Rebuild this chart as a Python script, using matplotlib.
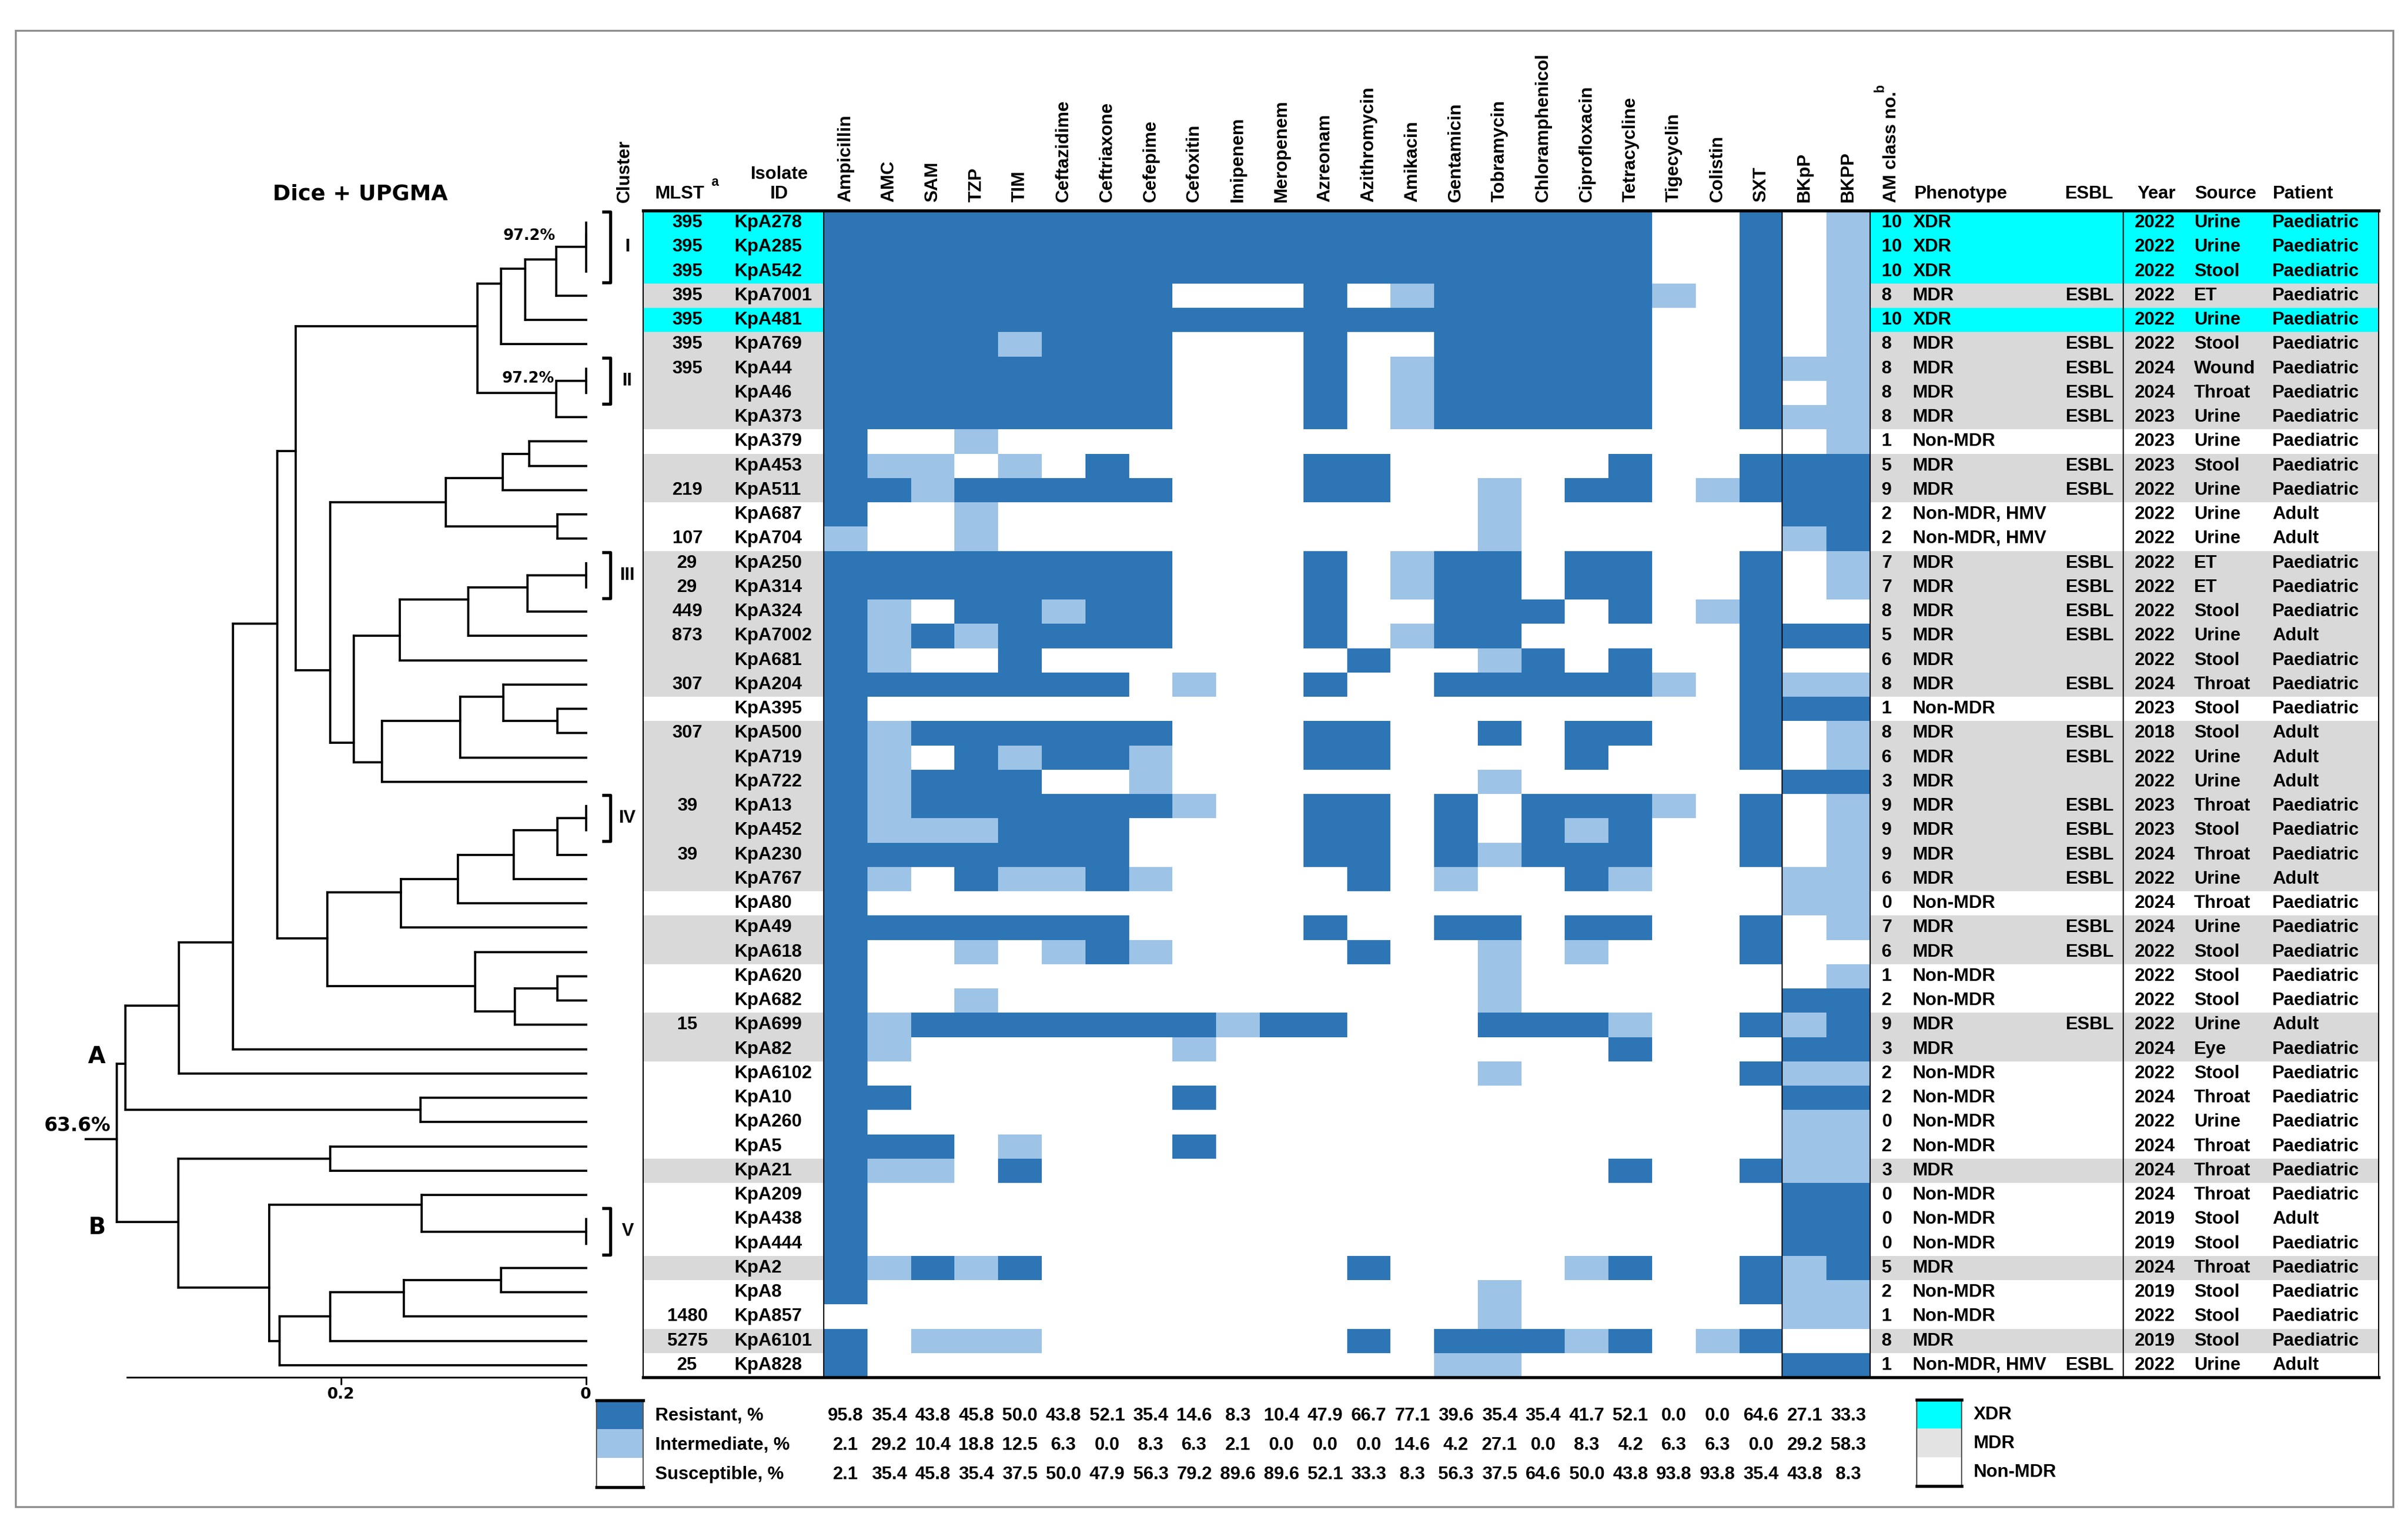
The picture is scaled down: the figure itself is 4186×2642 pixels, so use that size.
import numpy as np
import matplotlib
matplotlib.use("Agg")
import matplotlib.pyplot as plt
from matplotlib.colors import ListedColormap
from matplotlib import transforms
from matplotlib.patches import Rectangle

# ---------------- data ----------------
isolates = ["KpA278", "KpA285", "KpA542", "KpA7001", "KpA481", "KpA769", "KpA44", "KpA46",
            "KpA373", "KpA379", "KpA453", "KpA511", "KpA687", "KpA704", "KpA250", "KpA314",
            "KpA324", "KpA7002", "KpA681", "KpA204", "KpA395", "KpA500", "KpA719", "KpA722",
            "KpA13", "KpA452", "KpA230", "KpA767", "KpA80", "KpA49", "KpA618", "KpA620",
            "KpA682", "KpA699", "KpA82", "KpA6102", "KpA10", "KpA260", "KpA5", "KpA21",
            "KpA209", "KpA438", "KpA444", "KpA2", "KpA8", "KpA857", "KpA6101", "KpA828"]

mlst = ["395", "395", "395", "395", "395", "395", "395", "", "", "", "", "219", "", "107",
        "29", "29", "449", "873", "", "307", "", "307", "", "", "39", "", "39", "", "", "",
        "", "", "", "15", "", "", "", "", "", "", "", "", "", "", "", "1480", "5275", "25"]

am_class = [10, 10, 10, 8, 10, 8, 8, 8, 8, 1, 5, 9, 2, 2, 7, 7, 8, 5, 6, 8, 1, 8, 6, 3,
            9, 9, 9, 6, 0, 7, 6, 1, 2, 9, 3, 2, 2, 0, 2, 3, 0, 0, 0, 5, 2, 1, 8, 1]

phenotype = ["XDR", "XDR", "XDR", "MDR", "XDR", "MDR", "MDR", "MDR", "MDR", "Non-MDR",
             "MDR", "MDR", "Non-MDR, HMV", "Non-MDR, HMV", "MDR", "MDR", "MDR", "MDR", "MDR",
             "MDR", "Non-MDR", "MDR", "MDR", "MDR", "MDR", "MDR", "MDR", "MDR", "Non-MDR",
             "MDR", "MDR", "Non-MDR", "Non-MDR", "MDR", "MDR", "Non-MDR", "Non-MDR", "Non-MDR",
             "Non-MDR", "MDR", "Non-MDR", "Non-MDR", "Non-MDR", "MDR", "Non-MDR", "Non-MDR",
             "MDR", "Non-MDR, HMV"]

esbl = [0, 0, 0, 1, 0, 1, 1, 1, 1, 0, 1, 1, 0, 0, 1, 1, 1, 1, 0, 1, 0, 1, 1, 0,
        1, 1, 1, 1, 0, 1, 1, 0, 0, 1, 0, 0, 0, 0, 0, 0, 0, 0, 0, 0, 0, 0, 0, 1]

year = [2022, 2022, 2022, 2022, 2022, 2022, 2024, 2024, 2023, 2023, 2023, 2022, 2022, 2022,
        2022, 2022, 2022, 2022, 2022, 2024, 2023, 2018, 2022, 2022, 2023, 2023, 2024, 2022,
        2024, 2024, 2022, 2022, 2022, 2022, 2024, 2022, 2024, 2022, 2024, 2024, 2024, 2019,
        2019, 2024, 2019, 2022, 2019, 2022]

source = ["Urine", "Urine", "Stool", "ET", "Urine", "Stool", "Wound", "Throat", "Urine",
          "Urine", "Stool", "Urine", "Urine", "Urine", "ET", "ET", "Stool", "Urine", "Stool",
          "Throat", "Stool", "Stool", "Urine", "Urine", "Throat", "Stool", "Throat", "Urine",
          "Throat", "Urine", "Stool", "Stool", "Stool", "Urine", "Eye", "Stool", "Throat",
          "Urine", "Throat", "Throat", "Throat", "Stool", "Stool", "Throat", "Stool", "Stool",
          "Stool", "Urine"]

patient = ["Paediatric"] * 48
for i in [12, 13, 17, 21, 22, 23, 27, 33, 41, 47]:
    patient[i] = "Adult"

drugs = ["Ampicillin", "AMC", "SAM", "TZP", "TIM", "Ceftazidime", "Ceftriaxone", "Cefepime",
         "Cefoxitin", "Imipenem", "Meropenem", "Azreonam", "Azithromycin", "Amikacin",
         "Gentamicin", "Tobramycin", "Chloramphenicol", "Ciprofloxacin", "Tetracycline",
         "Tigecyclin", "Colistin", "SXT", "BKpP", "BKPP"]

# 2 = resistant, 1 = intermediate, 0 = susceptible (one string per isolate, one digit per column)
ast = ["222222222222222222200201", "222222222222222222200201", "222222222222222222200201",
       "222222220002012222210201", "222222222222222222200201", "222212220002002222200201",
       "222222220002012222200211", "222222220002012222200201", "222222220002012222200211",
       "200100000000000000000001", "211010200002200000200222", "221222220002200102201222",
       "200100000000000100000022", "100100000000000100000012", "222222220002012202200201",
       "222222220002012202200201", "210221220002002220201200", "212122220002012200000222",
       "210020000000200120200200", "222222201002002222210211", "200000000000000000000222",
       "212222220002200202200201", "210212210002200002000201", "212220010000000100000022",
       "212222221002202022210201", "211122200002202021200201", "222222200002202122200201",
       "210211210000201002100011", "200000000000000000000011", "222222200002002202200201",
       "200101210000200101000200", "200000000000000100000001", "200100000000000100000022",
       "212222222122000222100212", "210000001000000000200022", "200000000000000100000211",
       "220000002000000000000022", "200000000000000000000011", "222010002000000000000011",
       "211020000000000000200211", "200000000000000000000022", "200000000000000000000022",
       "200000000000000000000022", "212120000000200001200212", "200000000000000100000211",
       "000000000000000100000011", "201110000000202221201200", "200000000000001100000022"]

res_pct = [95.8, 35.4, 43.8, 45.8, 50.0, 43.8, 52.1, 35.4, 14.6, 8.3, 10.4, 47.9, 66.7, 77.1,
           39.6, 35.4, 35.4, 41.7, 52.1, 0.0, 0.0, 64.6, 27.1, 33.3]
int_pct = [2.1, 29.2, 10.4, 18.8, 12.5, 6.3, 0.0, 8.3, 6.3, 2.1, 0.0, 0.0, 0.0, 14.6,
           4.2, 27.1, 0.0, 8.3, 4.2, 6.3, 6.3, 0.0, 29.2, 58.3]
sus_pct = [2.1, 35.4, 45.8, 35.4, 37.5, 50.0, 47.9, 56.3, 79.2, 89.6, 89.6, 52.1, 33.3, 8.3,
           56.3, 37.5, 64.6, 50.0, 43.8, 93.8, 93.8, 35.4, 43.8, 8.3]

# UPGMA merges (child a, child b, distance); ids >= 48 refer to earlier merges
merges = [(0, 1, 0.0), (48, 2, 0.0), (49, 3, 0.0244), (50, 4, 0.0494), (51, 5, 0.0692),
          (6, 7, 0.0), (53, 8, 0.0244), (52, 54, 0.0886),
          (9, 10, 0.0463), (56, 11, 0.0680), (12, 13, 0.0235), (57, 58, 0.1146),
          (14, 15, 0.0), (60, 16, 0.0475), (61, 17, 0.0963), (62, 18, 0.1520),
          (20, 21, 0.0235), (19, 64, 0.0672), (65, 22, 0.1027), (66, 23, 0.1667),
          (63, 67, 0.1895), (59, 68, 0.2089), (55, 69, 0.2370),
          (24, 25, 0.0), (71, 26, 0.0235), (72, 27, 0.0589), (73, 28, 0.1043), (74, 29, 0.1510),
          (31, 32, 0.0235), (76, 33, 0.0579), (30, 77, 0.0902), (75, 78, 0.2113),
          (70, 79, 0.2521), (80, 34, 0.2881), (81, 35, 0.3323), (36, 37, 0.1349),
          (82, 83, 0.3760),
          (38, 39, 0.2089), (41, 42, 0.0), (40, 86, 0.1339), (43, 44, 0.0692), (88, 45, 0.1487),
          (89, 46, 0.2089), (90, 47, 0.2503), (87, 91, 0.2586), (85, 92, 0.3326),
          (84, 93, 0.3831)]
# row at which each merge is attached to its parent, as drawn in the figure
node_row = [1.0, 1.5, 2.0, 2.4, 3.0,
            7.0, 7.5, 4.75,
            10.0, 11.0, 13.0, 12.0,
            15.0, 15.5, 16.0, 17.5,
            21.0, 20.0, 21.0, 22.7,
            21.9, 18.9, 9.9,
            25.0, 25.5, 26.5, 27.5, 28.05,
            32.0, 32.95, 31.9, 29.95,
            17.0, 30.1, 32.7, 37.0,
            35.1,
            39.0, 42.0, 40.9, 44.0, 44.5,
            45.5, 46.5, 44.3, 41.6,
            38.2]
root_stub = 0.4083

clusters = [("I", 0, 3), ("II", 6, 8), ("III", 14, 16), ("IV", 24, 26), ("V", 41, 43)]

# ---------------- styling ----------------
W, H = 4186, 2642
TOP, BOT = 366, 2394
N = len(isolates)
DARK, LIGHT = "#2E75B6", "#9DC3E6"
pheno_col = {"XDR": "#00FFFF", "MDR": "#D9D9D9", "Non-MDR": "white"}
TS = 7.6
plt.rcParams["font.family"] = ["Liberation Sans", "DejaVu Sans"]
plt.rcParams["font.weight"] = "bold"

fig = plt.figure(figsize=(W / 300, H / 300), dpi=300)


def add_ax(x0, y0, x1, y1):
    return fig.add_axes([x0 / W, 1 - y1 / H, (x1 - x0) / W, (y1 - y0) / H])


# heatmap
ax_heat = add_ax(1432, TOP, 3251, BOT)
mat = np.array([[int(ch) for ch in row] for row in ast])
cmap = ListedColormap(["white", LIGHT, DARK])
ax_heat.pcolormesh(np.arange(len(drugs) + 1), np.arange(N + 1), mat, cmap=cmap, vmin=0, vmax=2)
ax_heat.set_xlim(0, len(drugs))
ax_heat.set_ylim(N, 0)
ax_heat.axis("off")
for c, name in enumerate(drugs):
    ax_heat.text(c + 0.5, -0.35, name, rotation=90, ha="center", va="bottom", fontsize=TS)

# left table
ax_left = add_ax(1118, TOP, 1432, BOT)
rows = np.arange(N) + 0.5
row_colors = [pheno_col[p.split(",")[0]] for p in phenotype]
ax_left.barh(rows, 1, height=1, left=0, color=row_colors)
ax_left.set_xlim(0, 1)
ax_left.set_ylim(N, 0)
ax_left.axis("off")
for i in range(N):
    ax_left.text(0.245, rows[i], mlst[i], ha="center", va="center", fontsize=TS)
    ax_left.text(0.506, rows[i], isolates[i], ha="left", va="center", fontsize=TS)

# right table
ax_right = add_ax(3251, TOP, 4135, BOT)
ax_right.barh(rows, 1, height=1, left=0, color=row_colors)
ax_right.set_xlim(0, 1)
ax_right.set_ylim(N, 0)
ax_right.axis("off")
for i in range(N):
    ax_right.text(0.023, rows[i], str(am_class[i]), ha="left", va="center", fontsize=TS)
    ax_right.text(0.084, rows[i], phenotype[i], ha="left", va="center", fontsize=TS)
    if esbl[i]:
        ax_right.text(0.48, rows[i], "ESBL", ha="right", va="center", fontsize=TS)
    ax_right.text(0.52, rows[i], str(year[i]), ha="left", va="center", fontsize=TS)
    ax_right.text(0.637, rows[i], source[i], ha="left", va="center", fontsize=TS)
    ax_right.text(0.791, rows[i], patient[i], ha="left", va="center", fontsize=TS)

# dendrogram
ax_dend = add_ax(221, TOP, 1018.6, BOT)
ax_dend.set_xlim(0.3745, 0)
ax_dend.set_ylim(N, 0)
lw = 0.9
node_y = {i: i + 0.5 for i in range(N)}
node_h = {i: 0.0 for i in range(N)}
for k, (a, b, h) in enumerate(merges):
    nid = N + k
    node_y[nid] = node_row[k]
    node_h[nid] = h
    ax_dend.plot([h, h], [node_y[a], node_y[b]], color="k", lw=lw, clip_on=False,
                 solid_capstyle="projecting")
    for ch in (a, b):
        ax_dend.plot([h, node_h[ch]], [node_y[ch], node_y[ch]], color="k", lw=lw,
                     clip_on=False, solid_capstyle="projecting")
root = N + len(merges) - 1
ax_dend.plot([node_h[root], root_stub], [node_y[root]] * 2, color="k", lw=lw, clip_on=False)
for s in ["top", "right", "left"]:
    ax_dend.spines[s].set_visible(False)
ax_dend.spines["bottom"].set_linewidth(0.7)
ax_dend.patch.set_alpha(0)
ax_dend.set_yticks([])
ax_dend.set_xticks([0.2, 0])
ax_dend.set_xticklabels(["0.2", "0"], family="DejaVu Sans", fontweight="bold", fontsize=6.5)
ax_dend.tick_params(axis="x", direction="out", length=3, width=0.7, pad=1)

# overlay in pixel coordinates for rules, headers and legend
ax = fig.add_axes([0, 0, 1, 1])
ax.set_xlim(0, W)
ax.set_ylim(H, 0)
ax.axis("off")
ax.patch.set_alpha(0)

ax.add_patch(Rectangle((27, 53), 4133, 2566, fill=False, ec="#8c8c8c", lw=0.8))
ax.plot([1118, 4135], [TOP, TOP], color="k", lw=1.3)
ax.plot([1118, 4135], [BOT, BOT], color="k", lw=1.3)
for x in [1118, 1432, 3098, 3251, 3691, 4135]:
    ax.plot([x, x], [TOP, BOT], color="k", lw=0.5)

ax.text(1086, 352, "Cluster", rotation=90, ha="center", va="bottom", fontsize=TS)
ax.text(1139, 352, "MLST", ha="left", va="bottom", fontsize=TS)
ax.text(1236, 328, "a", ha="left", va="bottom", fontsize=5.5)
ax.text(1355, 318, "Isolate", ha="center", va="bottom", fontsize=TS)
ax.text(1355, 352, "ID", ha="center", va="bottom", fontsize=TS)
ax.text(3288, 352, "AM class no.", rotation=90, ha="center", va="bottom", fontsize=TS)
ax.text(3268, 160, "b", rotation=90, ha="center", va="bottom", fontsize=5.5)
for x, t in [(3328, "Phenotype"), (3590, "ESBL"), (3716, "Year"), (3815, "Source"), (3951, "Patient")]:
    ax.text(x, 352, t, ha="left", va="bottom", fontsize=TS)

# dendrogram annotations
ax.text(626, 338, "Dice + UPGMA", ha="center", va="center", family="DejaVu Sans",
        fontweight="bold", fontsize=9)
for (x, y) in [(920, 410), (918, 658)]:
    ax.text(x, y, "97.2%", ha="center", va="center", family="DejaVu Sans", fontweight="bold",
            fontsize=6.3)
ax.text(135, 1956, "63.6%", ha="center", va="center", family="DejaVu Sans", fontweight="bold",
        fontsize=8)
ax.text(168, 1837, "A", ha="center", va="center", family="DejaVu Sans", fontweight="bold",
        fontsize=9.5)
ax.text(168, 2134, "B", ha="center", va="center", family="DejaVu Sans", fontweight="bold",
        fontsize=9.5)

# cluster brackets (x in pixels, y in heatmap rows)
tr = transforms.blended_transform_factory(ax.transData, ax_heat.transData)
for name, r0, r1 in clusters:
    ax.plot([1049, 1061, 1061, 1049], [r0 + 0.05, r0 + 0.05, r1 - 0.05, r1 - 0.05],
            color="k", lw=1.3, transform=tr, clip_on=False)
    ax.text(1091, (r0 + r1) / 2, name, ha="center", va="center", fontsize=TS, transform=tr)

# bottom legend: percentages under each column
trh = transforms.blended_transform_factory(ax_heat.transData, ax.transData)
for y, vals, lab in [(2461, res_pct, "Resistant, %"),
                     (2512, int_pct, "Intermediate, %"),
                     (2563, sus_pct, "Susceptible, %")]:
    for c, v in enumerate(vals):
        ax.text(c + 0.5, y, f"{v:.1f}", ha="center", va="center", fontsize=TS, transform=trh)
    ax.text(1139, y, lab, ha="left", va="center", fontsize=TS)
for y0, col in [(2434, DARK), (2484, LIGHT), (2535, "white")]:
    ax.add_patch(Rectangle((1037, y0), 81, 50, fc=col, ec="none"))
ax.plot([1037, 1037], [2434, 2585], color="#555555", lw=0.5)
ax.plot([1118, 1118], [2434, 2585], color="#555555", lw=0.5)
ax.plot([1037, 1118], [2434, 2434], color="k", lw=1.3)
ax.plot([1037, 1118], [2585, 2585], color="k", lw=1.3)

for y0, col, lab in [(2433, "#00FFFF", "XDR"), (2483, "#E3E3E3", "MDR"), (2533, "white", "Non-MDR")]:
    ax.add_patch(Rectangle((3332, y0), 78, 50, fc=col, ec="none"))
    ax.text(3431, y0 + 26, lab, ha="left", va="center", fontsize=TS)
ax.plot([3332, 3332], [2433, 2583], color="#555555", lw=0.5)
ax.plot([3410, 3410], [2433, 2583], color="#555555", lw=0.5)
ax.plot([3332, 3410], [2433, 2433], color="k", lw=1.3)
ax.plot([3332, 3410], [2583, 2583], color="k", lw=1.3)

fig.savefig("out.png", dpi=300)
